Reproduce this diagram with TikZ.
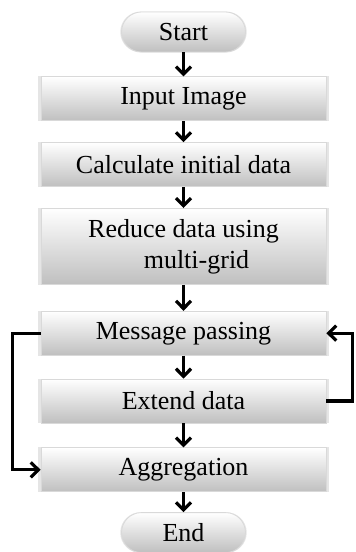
\documentclass[tikz,border=0pt]{standalone}
\usepackage{fontspec}
\setmainfont{Liberation Serif}
\usepackage{tikz}
\usetikzlibrary{positioning,arrows.meta,shadows}

\begin{document}
\begin{tikzpicture}[
        node distance=11pt,
        box/.style={rectangle, draw=gray!30, line width=0.4pt, top color=white, bottom color=gray!50,
          minimum width=142.5pt, minimum height=22pt, align=center, inner sep=1pt,
          general shadow={fill=gray!40, opacity=0.5, shadow scale=1.02},
          font=\fontsize{13}{15.5}\selectfont},
        term/.style={box, rounded corners=10pt, minimum width=62pt, minimum height=20pt},
        arr/.style={line width=1.6pt, -{Straight Barb[length=3.8pt,width=7.5pt]}}]
        \useasboundingbox (0,0) rectangle (177.5pt,-276pt);
        \node [term] (start) at (91.75pt,-16pt) {Start};
        \node [box, below=12pt of start] (input) {Input Image};
        \node [box, below=10.5pt of input] (calc) {Calculate initial data};
        \node [box, below=10.5pt of calc, minimum height=38pt] (reduce) {Reduce data using\\ \hspace*{1em}multi-grid};
        \node [box, below=13pt of reduce] (msg) {Message passing};
        \node [box, below=11.5pt of msg] (extend) {Extend data};
        \node [box, below=12pt of extend] (aggr) {Aggregation};
        \node [term, below=10pt of aggr] (end) {End};

        % main flow
        \draw [arr] (start) -- (input);
        \draw [arr] (input) -- (calc);
        \draw [arr] (calc) -- (reduce);
        \draw [arr] (reduce) -- (msg);
        \draw [arr] (msg) -- (extend);
        \draw [arr] (extend) -- (aggr);
        \draw [arr] (aggr) -- (end);

        % loops
        \draw [arr] (msg.west) -- ++(-14pt,0) |- (aggr.west);
        \draw [arr] (extend.east) -- ++(13pt,0) |- (msg.east);
    \end{tikzpicture}
\end{document}
